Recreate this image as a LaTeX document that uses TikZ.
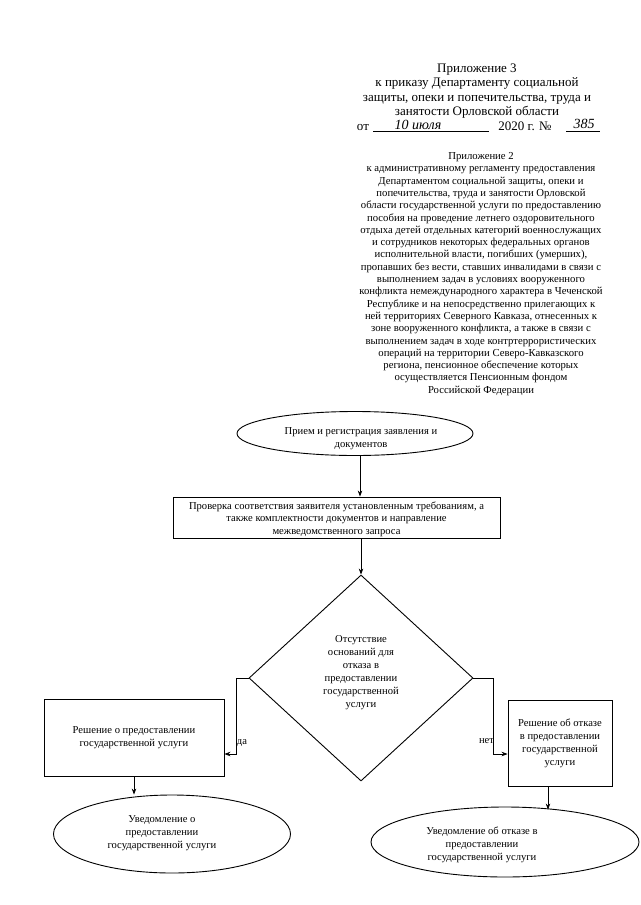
\documentclass[tikz,border=0pt]{standalone}
\usepackage{fontspec}
\setmainfont{Liberation Serif}
\usetikzlibrary{shapes.geometric,arrows.meta,calc}
\begin{document}
\begin{tikzpicture}[x=1pt,y=-1pt,
  hdr/.style={align=center,inner sep=0,font=\fontsize{13}{14.6}\selectfont},
  app/.style={align=center,inner sep=0,font=\fontsize{10.7}{12.3}\selectfont},
  fc/.style={align=center,inner sep=0,font=\fontsize{10.6}{13}\selectfont},
  fcb/.style={align=center,inner sep=0,font=\fontsize{10.6}{12.4}\selectfont},
  boxnode/.style={draw,line width=0.9pt,rectangle,inner sep=0},
  ellnode/.style={draw,line width=0.9pt,ellipse,inner sep=0},
  arr/.style={line width=0.7pt,-{Stealth[length=6pt,width=4.5pt]}},
  hand/.style={inner sep=0,font=\fontsize{14}{14}\selectfont\itshape}
]
\fill[white] (0,0) rectangle (640,905);
\useasboundingbox (0,0) rectangle (640,905);

% header
\node[hdr] (h1) at (477,91) {Приложение 3\\к приказу Департаменту социальной\\защиты, опеки и попечительства, труда и\\занятости Орловской области};
\node[hdr,anchor=base] (ot) at (363,130) {от};
\node[hand,anchor=base] (dt) at (418,129) {10 июля};
\node[hdr,anchor=base] (yr) at (525,130) {2020 г. №};
\node[hand,anchor=base] (nr) at (584,128) {385};
\draw[line width=0.5pt] (373,131.5) -- (489,131.5);
\draw[line width=0.5pt] (566,131.5) -- (600,131.5);

% appendix 2
\node[app] (a2) at (481,274) {Приложение 2\\
к административному регламенту предоставления\\
Департаментом социальной защиты, опеки и\\
попечительства, труда и занятости Орловской\\
области государственной услуги по предоставлению\\
пособия на проведение летнего оздоровительного\\
отдыха детей отдельных категорий военнослужащих\\
и сотрудников некоторых федеральных органов\\
исполнительной власти, погибших (умерших),\\
пропавших без вести, ставших инвалидами в связи с\\
выполнением задач в условиях вооруженного\\
конфликта немеждународного характера в Чеченской\\
Республике и на непосредственно прилегающих к\\
ней территориях Северного Кавказа, отнесенных к\\
зоне вооруженного конфликта, а также в связи с\\
выполнением задач в ходе контртеррористических\\
операций на территории Северо-Кавказского\\
региона, пенсионное обеспечение которых\\
осуществляется Пенсионным фондом\\
Российской Федерации};

% flowchart
\node[ellnode,minimum width=236,minimum height=44] (e1) at (355,433.5) {};
\node[fc] (e1t) at (361,439) {Прием и регистрация заявления и\\документов};
\node[boxnode,minimum width=327,minimum height=41] (b2) at (336.5,517.5) {};
\node[fcb] (b2t) at (336.5,519) {Проверка соответствия заявителя установленным требованиям, а\\также комплектности документов и направление\\межведомственного запроса};
\node[draw,diamond,aspect=1.087,minimum width=224,minimum height=206,inner sep=0,line width=0.9pt] (d3) at (361,678) {};
\node[fc] (d3t) at (361,673) {Отсутствие\\оснований для\\отказа в\\предоставлении\\государственной\\услуги};
\node[boxnode,fc,minimum width=180,minimum height=77] (b4) at (134,737.5) {Решение о предоставлении\\государственной услуги};
\node[boxnode,fc,minimum width=104,minimum height=86] (b5) at (560,743) {Решение об отказе\\в предоставлении\\государственной\\услуги};
\node[ellnode,minimum width=237,minimum height=78] (e6) at (172,834) {};
\node[fc] (e6t) at (162,833.5) {Уведомление о\\предоставлении\\государственной услуги};
\node[ellnode,minimum width=268,minimum height=70] (e7) at (505,842) {};
\node[fc] (e7t) at (482,845) {Уведомление об отказе в\\предоставлении\\государственной услуги};

\coordinate (e1s) at ($(e1.south)+(5,0)$);
\draw[arr] (e1s) -- (e1s |- b2.north);
\draw[arr] (d3.north |- b2.south) -- (d3.north);
\draw[arr] (d3.west) -- ++(-12,0) |- (b4.east |- 0,754);
\draw[arr] (d3.east) -- ++(20,0) |- (b5.west |- 0,754);
\node[fc] (da) at (242,743) {да};
\node[fc] (net) at (486.5,741) {нет};
\draw[arr] (b4.south) -- (b4.south |- e6.north);
\coordinate (b5s) at ($(b5.south)+(-12,0)$);
\draw[arr] (b5s) -- ($(b5s |- e7.north)+(0,3)$);
\end{tikzpicture}
\end{document}
